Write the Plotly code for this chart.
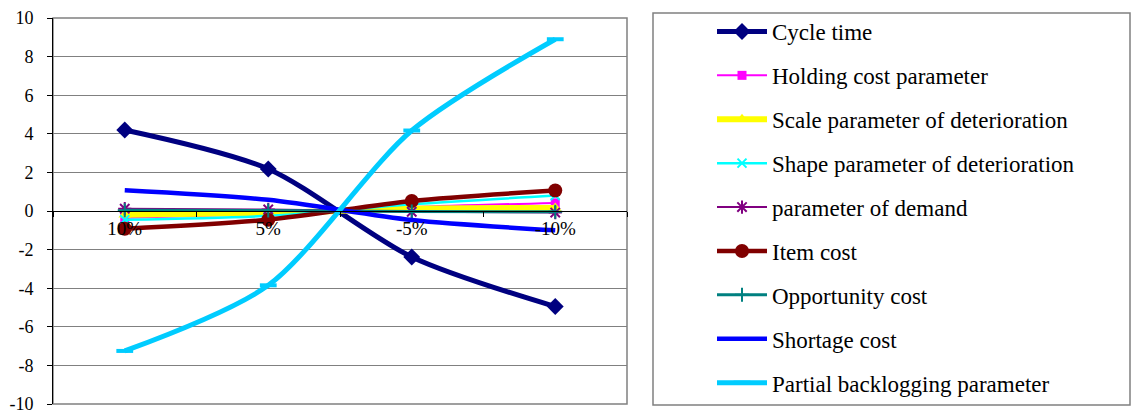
import plotly.graph_objects as go

categories = ["10%", "5%", "-5%", "-10%"]

cycle_time = [4.2, 2.18, -2.38, -4.95]
holding_cost = [-0.35, -0.15, 0.2, 0.42]
scale_param = [-0.2, -0.1, 0.12, 0.16]
shape_param = [-0.45, -0.25, 0.35, 0.8]
demand_param = [0.12, 0.08, -0.04, -0.08]
item_cost = [-0.92, -0.45, 0.52, 1.06]
opportunity_cost = [0.04, 0.02, -0.02, -0.04]
shortage_cost = [1.07, 0.58, -0.47, -1.0]
partial_backlog = [-7.25, -3.85, 4.17, 8.9]

y_ticks = [10, 8, 6, 4, 2, 0, -2, -4, -6, -8, -10]
y_tick_text = ["10", "8", "6", "4", "2", "0", "-2", "-4", "-6", "-8", "-10"]

series = [
    ("Cycle time", cycle_time, "#000080", 5, "diamond", 13, 0),
    ("Holding cost parameter", holding_cost, "#FF00FF", 2, "square", 9, 0),
    ("Scale parameter of deterioration", scale_param, "#FFFF00", 6, "triangle-up", 11, 0),
    ("Shape parameter of deterioration", shape_param, "#00FFFF", 2.5, "x-thin", 9, 2),
    ("parameter of demand", demand_param, "#800080", 2, "asterisk", 11, 2),
    ("Item cost", item_cost, "#800000", 4.5, "circle", 14, 0),
    ("Opportunity cost", opportunity_cost, "#008080", 3, "cross-thin", 10, 2),
    ("Shortage cost", shortage_cost, "#0000FF", 4.5, None, 0, 0),
    ("Partial backlogging parameter", partial_backlog, "#00CCFF", 5, "line-ew", 12, 4),
]

fig = go.Figure()
for i, (name, vals, color, lw, sym, msize, mlw) in enumerate(series):
    if sym is None:
        mode = "lines"
        marker = None
    else:
        mode = "lines+markers"
        marker = dict(symbol=sym, size=msize, color=color,
                      line=dict(color=color, width=mlw))
    fig.add_trace(go.Scatter(
        x=categories, y=vals, name=name, mode=mode,
        line=dict(color=color, width=lw, shape="spline", smoothing=0.8),
        marker=marker, legendgroup=f"g{i}",
    ))

W, H = 1131, 413
ml, mr, mt, mb = 53, 504, 18, 9
PW = W - ml - mr
PH = H - mt - mb

fig.update_layout(
    width=W, height=H,
    margin=dict(l=ml, r=mr, t=mt, b=mb, autoexpand=False),
    paper_bgcolor="white", plot_bgcolor="white",
    font=dict(family="Liberation Serif", color="black", size=18),
    showlegend=True,
    legend=dict(
        x=(712 - ml) / PW, y=1 + 8 / PH, xanchor="left", yanchor="top",
        font=dict(family="Liberation Serif", size=23, color="black"),
        tracegroupgap=11, itemwidth=50, bgcolor="rgba(0,0,0,0)",
        maxheight=600,
    ),
    xaxis=dict(
        type="category", categoryorder="array", categoryarray=categories,
        anchor="free", position=0.5, showline=True, linecolor="black", linewidth=1,
        ticks="outside", ticklen=5, tickcolor="black", tickson="boundaries",
        showgrid=False, zeroline=False, ticklabeloverflow="allow", automargin=False,
        tickfont=dict(family="Liberation Serif", size=19, color="black"),
        range=[-0.5, 3.5],
    ),
    yaxis=dict(
        range=[-10, 10], tickvals=y_ticks, ticktext=y_tick_text,
        showline=True, linecolor="black", linewidth=1,
        ticks="outside", ticklen=5, tickcolor="black",
        showgrid=True, gridcolor="#808080", gridwidth=1, zeroline=False,
        ticklabeloverflow="allow", ticklabelstandoff=10, automargin=False,
        tickfont=dict(family="Liberation Serif", size=18, color="black"),
    ),
    shapes=[
        dict(type="rect", xref="paper", yref="paper", x0=0, x1=1, y0=0, y1=1,
             line=dict(color="#808080", width=1.5), layer="below"),
        dict(type="rect", xref="paper", yref="paper",
             x0=(653 - ml) / PW, x1=(1130 - ml) / PW,
             y0=(H - mb - 405) / PH, y1=(H - mb - 13) / PH,
             line=dict(color="#808080", width=1.5)),
    ],
)

fig.write_html("out.html", config={"displayModeBar": False},
               post_script="document.body.style.margin='0px';")
